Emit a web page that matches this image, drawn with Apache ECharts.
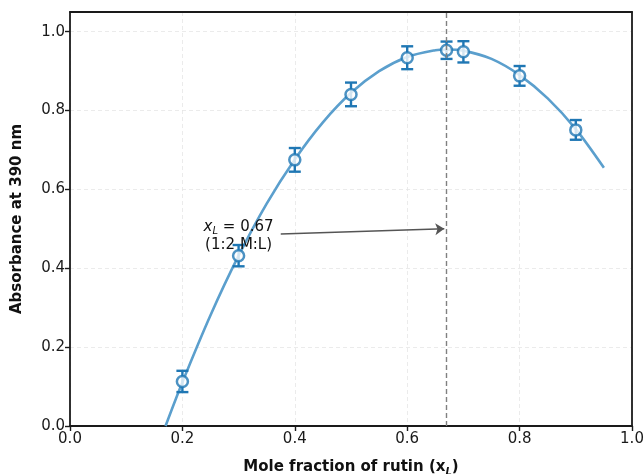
<!DOCTYPE html>
<html>
<head>
<meta charset="utf-8">
<script src="https://cdn.jsdelivr.net/npm/echarts@6/dist/echarts.min.js"></script>
<style>
  html, body { margin: 0; padding: 0; background: #fff; }
  #chart { width: 644px; height: 474px; }
</style>
</head>
<body>
<div id="chart"></div>
<script>
// measured points (mole fraction, absorbance, error)
const moleFrac = [0.2, 0.3, 0.4, 0.5, 0.6, 0.67, 0.7, 0.8, 0.9]
const absorb = [0.113, 0.432, 0.675, 0.841, 0.934, 0.953, 0.949, 0.888, 0.751]
const absErr = [0.027, 0.027, 0.03, 0.03, 0.029, 0.022, 0.027, 0.025, 0.025]

// fitted curve
const fitX = [0.17, 0.2, 0.25, 0.3, 0.35, 0.4, 0.45, 0.5, 0.55, 0.6, 0.65, 0.67, 0.7, 0.75, 0.8, 0.85, 0.9, 0.95]
const fitY = [0.0, 0.111, 0.281, 0.432, 0.564, 0.676, 0.770, 0.845, 0.900, 0.936, 0.953, 0.955, 0.952, 0.931, 0.890, 0.831, 0.753, 0.655]

const xTicks = [0, 0.2, 0.4, 0.6, 0.8, 1.0]
const yTicks = [0, 0.2, 0.4, 0.6, 0.8, 1.0]

const peakX = 0.67
const blue = '#1f77b4'
const font = 'DejaVu Sans'

const chart = echarts.init(document.getElementById('chart'))

const splitLine = {
  show: true,
  lineStyle: {color: '#e6e6e6', type: [4, 3], width: 0.8}
}
const spine = {show: true, onZero: false, lineStyle: {color: '#1a1a1a', width: 1.8}}
const tick = {show: true, inside: false, length: 5, lineStyle: {color: '#1a1a1a', width: 1.4}}
const isTick = (list, v) => list.some(t => Math.abs(t - v) < 1e-6)

const option = {
  animation: false,
  grid: {left: 70, right: 12, top: 12, bottom: 48, outerBoundsMode: 'none', containLabel: false},
  xAxis: [
    {
      type: 'value',
      min: 0, max: 1.0, interval: 0.2,
      name: 'Mole fraction of rutin (x{sub|L})',
      nameLocation: 'middle',
      nameGap: 32,
      nameTextStyle: {
        fontFamily: font, fontSize: 15, fontWeight: 'bold', color: '#111',
        rich: {
          sub: {fontFamily: font, fontSize: 10, fontStyle: 'italic', fontWeight: 'bold', verticalAlign: 'bottom', padding: [9, 0, 0, 0]}
        }
      },
      axisLine: spine,
      axisTick: Object.assign({}, tick, {customValues: xTicks}),
      axisLabel: {
        fontFamily: font, fontSize: 15, color: '#1a1a1a', margin: 6,
        formatter: v => isTick(xTicks, v) ? v.toFixed(1) : ''
      },
      splitLine: splitLine
    },
    {
      // top spine
      type: 'value', position: 'top', min: 0, max: 1.0,
      axisLine: spine, axisTick: {show: false}, axisLabel: {show: false}, splitLine: {show: false}
    }
  ],
  yAxis: [
    {
      type: 'value',
      min: 0, max: 1.05, interval: 0.2,
      name: 'Absorbance at 390 nm',
      nameLocation: 'middle',
      nameGap: 45,
      nameTextStyle: {fontFamily: font, fontSize: 15, fontWeight: 'bold', color: '#111'},
      axisLine: spine,
      axisTick: Object.assign({}, tick, {customValues: yTicks}),
      axisLabel: {
        fontFamily: font, fontSize: 15, color: '#1a1a1a', margin: 5,
        formatter: v => isTick(yTicks, v) ? v.toFixed(1) : ''
      },
      splitLine: splitLine
    },
    {
      // right spine
      type: 'value', position: 'right', min: 0, max: 1.05,
      axisLine: spine, axisTick: {show: false}, axisLabel: {show: false}, splitLine: {show: false}
    }
  ],
  series: [
    {
      // fitted curve
      type: 'line',
      data: fitX.map((x, i) => [x, fitY[i]]),
      smooth: 0.3,
      showSymbol: false,
      lineStyle: {color: '#5b9fcd', width: 2.6},
      z: 2,
      markLine: {
        silent: true,
        symbol: 'none',
        label: {show: false},
        lineStyle: {color: '#808080', type: [5, 3], width: 1.4},
        data: [{xAxis: peakX}]
      }
    },
    {
      // error bars
      type: 'custom',
      data: moleFrac.map((x, i) => [x, absorb[i], absErr[i]]),
      renderItem: (params, api) => {
        const x = api.value(0), y = api.value(1), e = api.value(2)
        const lo = api.coord([x, y - e])
        const hi = api.coord([x, y + e])
        const cap = 6
        const style = {stroke: blue, lineWidth: 2.4}
        return {
          type: 'group',
          children: [
            {type: 'line', shape: {x1: lo[0], y1: lo[1], x2: hi[0], y2: hi[1]}, style: style},
            {type: 'line', shape: {x1: lo[0] - cap, y1: lo[1], x2: lo[0] + cap, y2: lo[1]}, style: style},
            {type: 'line', shape: {x1: hi[0] - cap, y1: hi[1], x2: hi[0] + cap, y2: hi[1]}, style: style}
          ]
        }
      },
      z: 3
    },
    {
      // markers
      type: 'scatter',
      data: moleFrac.map((x, i) => [x, absorb[i]]),
      symbol: 'circle',
      symbolSize: 11,
      itemStyle: {color: '#fff', borderColor: blue, borderWidth: 2.5},
      z: 4
    },
    {
      // annotation
      type: 'line',
      data: [],
      markLine: {
        silent: true,
        symbol: ['none', 'arrow'],
        symbolSize: 9,
        label: {show: false},
        lineStyle: {color: '#555', type: 'solid', width: 1.5},
        data: [[{coord: [0.375, 0.487]}, {coord: [peakX - 0.004, 0.5]}]]
      },
      markPoint: {
        silent: true,
        symbol: 'circle',
        symbolSize: 0,
        data: [{coord: [0.3, 0.482]}],
        label: {
          show: true,
          position: 'inside',
          fontFamily: font,
          fontSize: 15,
          color: '#111',
          align: 'center',
          lineHeight: 18,
          formatter: '{it|x}{sub|L} = 0.67\n(1:2 M:L)',
          rich: {
            it: {fontFamily: font, fontSize: 15, fontStyle: 'italic', color: '#111'},
            sub: {fontFamily: font, fontSize: 10, fontStyle: 'italic', color: '#111', verticalAlign: 'bottom', padding: [7, 0, 0, 0]}
          }
        }
      },
      z: 5
    }
  ]
}

chart.setOption(option)
</script>
</body>
</html>
